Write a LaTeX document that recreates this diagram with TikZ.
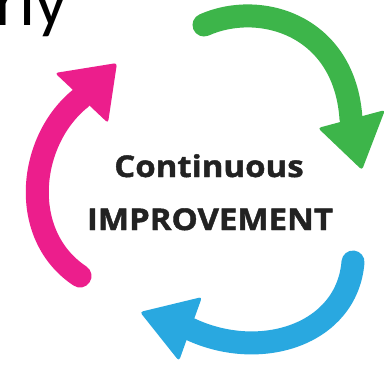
\documentclass[tikz,border=0pt]{standalone}
\usepackage{fontspec}
\setmainfont{Open Sans}
\newfontfamily\labelfont[BoldFeatures={FakeBold=1.4,FakeStretch=1.1}]{Open Sans}
\newfontfamily\headingfont{Carlito}
\definecolor{cyclegreen}{RGB}{61,181,74}
\definecolor{cycleblue}{RGB}{41,168,224}
\definecolor{cyclepink}{RGB}{236,30,140}
\definecolor{labelgray}{RGB}{34,34,34}
\begin{document}
\begin{tikzpicture}[x=1pt,y=-1pt,
  shaft/.style={line width=23pt, line cap=round},
  head/.style={rounded corners=3pt},
  label/.style={anchor=base, inner sep=0pt, text=labelgray,
    font=\labelfont\bfseries\fontsize{30}{30}\selectfont}]
\useasboundingbox (0,0) rectangle (386,368);
\fill[white] (0,0) rectangle (386,368);

% heading text running off the top-left corner
\begin{scope}
\clip (0,0) rectangle (386,368);
\node[anchor=base west, inner sep=0pt, font=\headingfont\fontsize{70}{70}\selectfont, text=black]
  (heading) at (-5,25) {rly};
\end{scope}

% green arrow (top right)
\draw[shaft, cyclegreen] (204,25) .. controls (260,0) and (345,25) .. (351,119);
\fill[head, cyclegreen] (318,128) -- (385,110) -- (362,170) -- cycle;

% blue arrow (bottom)
\draw[shaft, cycleblue] (353,262) .. controls (347,335) and (260,362) .. (190,329);
\fill[head, cycleblue] (202,297) -- (140,312) -- (179,361) -- cycle;

% pink arrow (left)
\draw[shaft, cyclepink] (80,276) .. controls (18,235) and (28,140) .. (81,98);
\fill[head, cyclepink] (55,73) -- (117,63) -- (108,123) -- cycle;

% centre label
\node[label] (cont) at (209,177) {Continuous};
\node[label] (impr) at (210,230) {IMPROVEMENT};
\end{tikzpicture}
\end{document}
